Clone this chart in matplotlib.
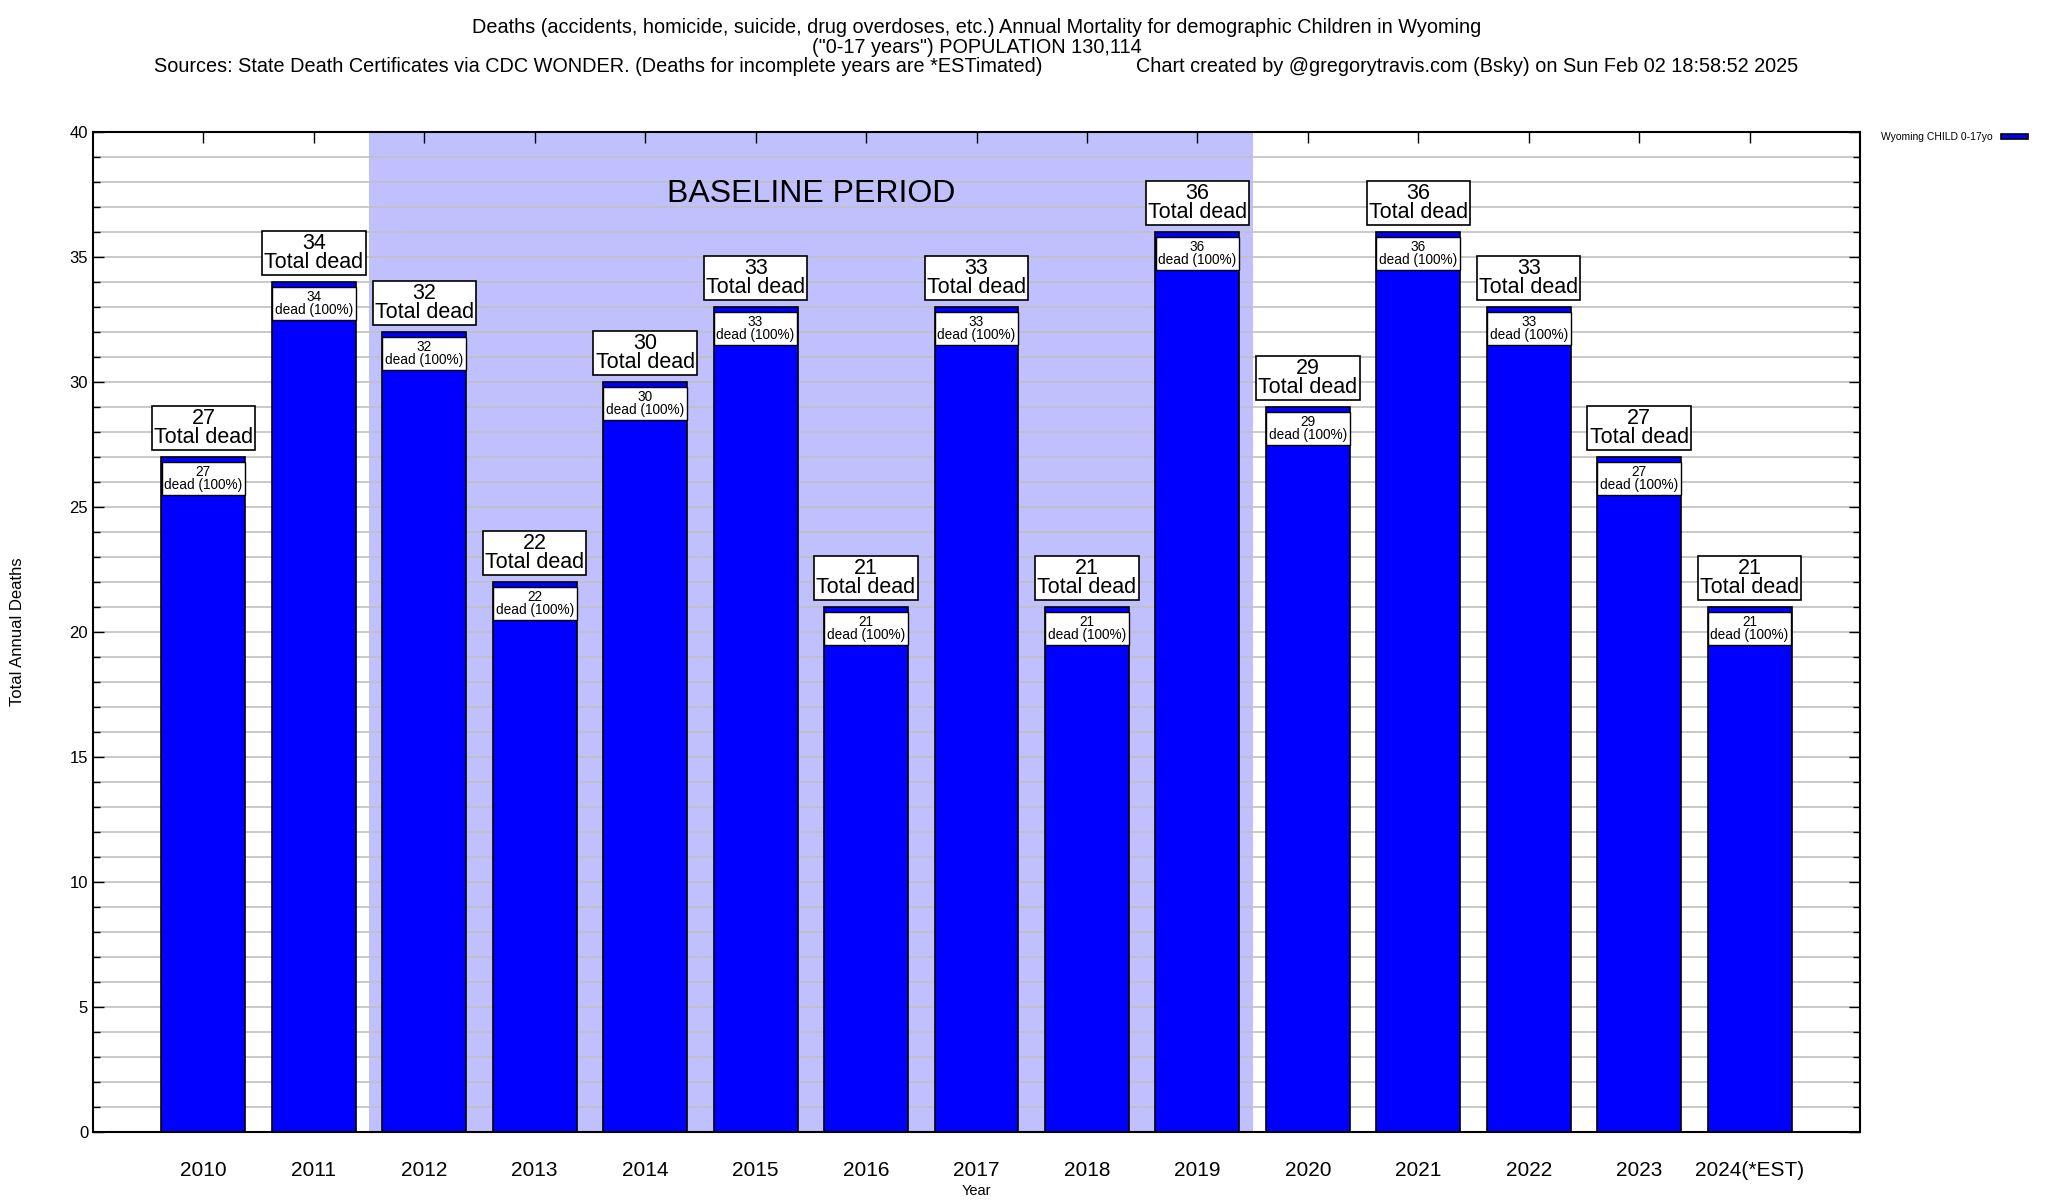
import matplotlib
matplotlib.use('Agg')
import matplotlib.pyplot as plt
from matplotlib.ticker import MultipleLocator

plt.rcParams['font.family'] = ['Liberation Sans', 'DejaVu Sans']

years = ['2010', '2011', '2012', '2013', '2014', '2015', '2016', '2017',
         '2018', '2019', '2020', '2021', '2022', '2023', '2024(*EST)']
deaths = [27, 34, 32, 22, 30, 33, 21, 33, 21, 36, 29, 36, 33, 27, 21]
baseline_first = '2012'
baseline_last = '2019'

title = ('Deaths (accidents, homicide, suicide, drug overdoses, etc.) Annual Mortality for demographic Children in Wyoming\n'
         '("0-17 years") POPULATION 130,114\n'
         'Sources: State Death Certificates via CDC WONDER. (Deaths for incomplete years are *ESTimated)'
         '                 Chart created by @gregorytravis.com (Bsky) on Sun Feb 02 18:58:52 2025')

fig = plt.figure(figsize=(20.48, 12), dpi=100)
ax = fig.add_axes([93/2048, 1-1132/1200, (1860-93)/2048, (1132-132)/1200])

x = list(range(len(years)))
b0 = years.index(baseline_first) - 0.5
b1 = years.index(baseline_last) + 0.5
ax.axvspan(b0, b1, color='#c0c0ff', zorder=0.2, lw=0)
ax.text((b0 + b1) / 2, 37.5, 'BASELINE PERIOD', ha='center', va='center', fontsize=23, zorder=3)

bars = ax.bar(x, deaths, width=0.76, color='#0000ff', edgecolor='black', linewidth=1.2,
              zorder=2, label='Wyoming CHILD 0-17yo')

for xi, v in zip(x, deaths):
    ax.text(xi, v + 0.35, f'{v}\nTotal dead', ha='center', va='bottom', fontsize=15.5,
            linespacing=0.9, zorder=4,
            bbox=dict(boxstyle='square,pad=0.1', fc='white', ec='black', lw=1.2))
    ax.text(xi, v - 0.32, f'{v}\ndead (100%)', ha='center', va='top', fontsize=9.8,
            linespacing=0.95, zorder=4,
            bbox=dict(boxstyle='square,pad=0.2', fc='white', ec='black', lw=1.0))

ax.set_xlim(-1, len(years))
ax.set_ylim(0, 40)
ax.set_xticks(x)
ax.set_xticklabels(years, fontsize=15)
ax.yaxis.set_major_locator(MultipleLocator(5))
ax.yaxis.set_minor_locator(MultipleLocator(1))
ax.tick_params(axis='x', direction='in', top=True, length=8, pad=21, width=1)
ax.tick_params(axis='y', which='major', direction='in', right=True, length=8, labelsize=12, width=1)
ax.tick_params(axis='y', which='minor', direction='in', right=True, length=5, width=1)
ax.set_axisbelow(True)
ax.grid(axis='y', which='both', color='#c0c0c0', lw=1.2)
for s in ax.spines.values():
    s.set_linewidth(1.5)

ax.set_xlabel('Year', fontsize=10.5, labelpad=3)
ax.set_ylabel('Total Annual Deaths', fontsize=12, labelpad=32)
ax.set_title(title, fontsize=14.3, linespacing=1.05, pad=43)

fig.legend(handles=[bars], labels=['Wyoming CHILD 0-17yo'], loc='upper left',
           bbox_to_anchor=(1876/2048, 1-127/1200), frameon=False, fontsize=7.5,
           markerfirst=False, handlelength=2.6, handleheight=0.5, borderpad=0, handletextpad=0.8)

fig.savefig('out.png', dpi=100)
